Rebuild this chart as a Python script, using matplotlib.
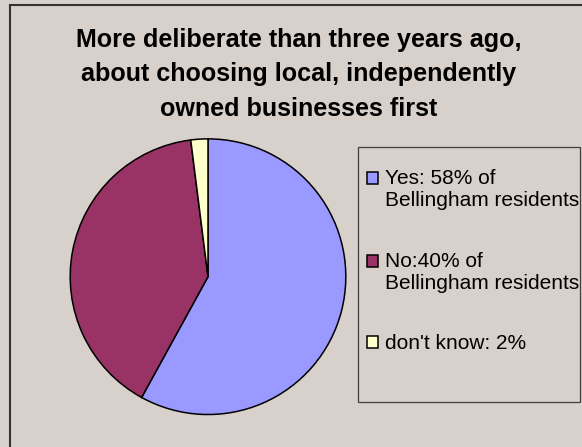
import matplotlib
matplotlib.use('Agg')
import matplotlib.pyplot as plt
from matplotlib.patches import Rectangle
from matplotlib.legend_handler import HandlerPatch

# ── Data ──────────────────────────────────────────────────────────────────────
title = ('More deliberate than three years ago,\n'
         'about choosing local, independently\n'
         'owned businesses first')
labels = ['Yes: 58% of\nBellingham residents',
          'No:40% of\nBellingham residents',
          "don't know: 2%"]
shares = [58, 40, 2]
colors = ['#9999FF', '#993366', '#FFFFCC']

plt.rcParams['font.family'] = ['Liberation Sans', 'DejaVu Sans']

W, H = 582, 447
bg = '#D8D0CA'

# ── Figure ────────────────────────────────────────────────────────────────────
fig = plt.figure(figsize=(W / 100, H / 100), dpi=100, facecolor=bg)

# outer chart frame (runs off the right/bottom edge like the original crop)
fig.patches.append(Rectangle((10.5 / W, -0.1), 1.2, 1.1 - 5.5 / H,
                             transform=fig.transFigure, fill=False,
                             edgecolor='#333333', linewidth=1.5))

fig.text(299 / W, 1 - 28 / H, title, ha='center', va='top',
         fontsize=18.1, fontweight='bold', linespacing=1.55)

# pie
cx, cy, r = 208, 276.7, 138.5
ax = fig.add_axes([(cx - r) / W, (H - cy - r) / H, 2 * r / W, 2 * r / H])
ax.set_facecolor(bg)
wedges, _ = ax.pie(shares, colors=colors, startangle=90, counterclock=False,
                   wedgeprops=dict(edgecolor='black', linewidth=1.1))
ax.set_xlim(-1.005, 1.005)
ax.set_ylim(-1.005, 1.005)


# legend: handle sits on the first line of multi-line labels
def top_handle(nlines):
    def make(legend, orig_handle, xdescent, ydescent, width, height, fontsize):
        shift = (nlines - 1) * fontsize * 0.55
        return Rectangle((-xdescent, -ydescent + shift), width, height)
    return make


hmap = {w: HandlerPatch(patch_func=top_handle(lbl.count('\n') + 1))
        for w, lbl in zip(wedges, labels)}

fig.patches.append(Rectangle((358 / W, (H - 402) / H), 222 / W, 254.5 / H,
                             transform=fig.transFigure, facecolor=bg,
                             edgecolor='#404040', linewidth=0.9, zorder=0))

fig.legend(wedges, labels, handler_map=hmap, loc='upper left',
           bbox_to_anchor=(367 / W, 1 - 169 / H), frameon=False,
           fontsize=15, borderpad=0, borderaxespad=0,
           handlelength=0.55, handleheight=0.55, handletextpad=0.3,
           labelspacing=2.0)

fig.savefig('out.png', dpi=100, facecolor=bg)
